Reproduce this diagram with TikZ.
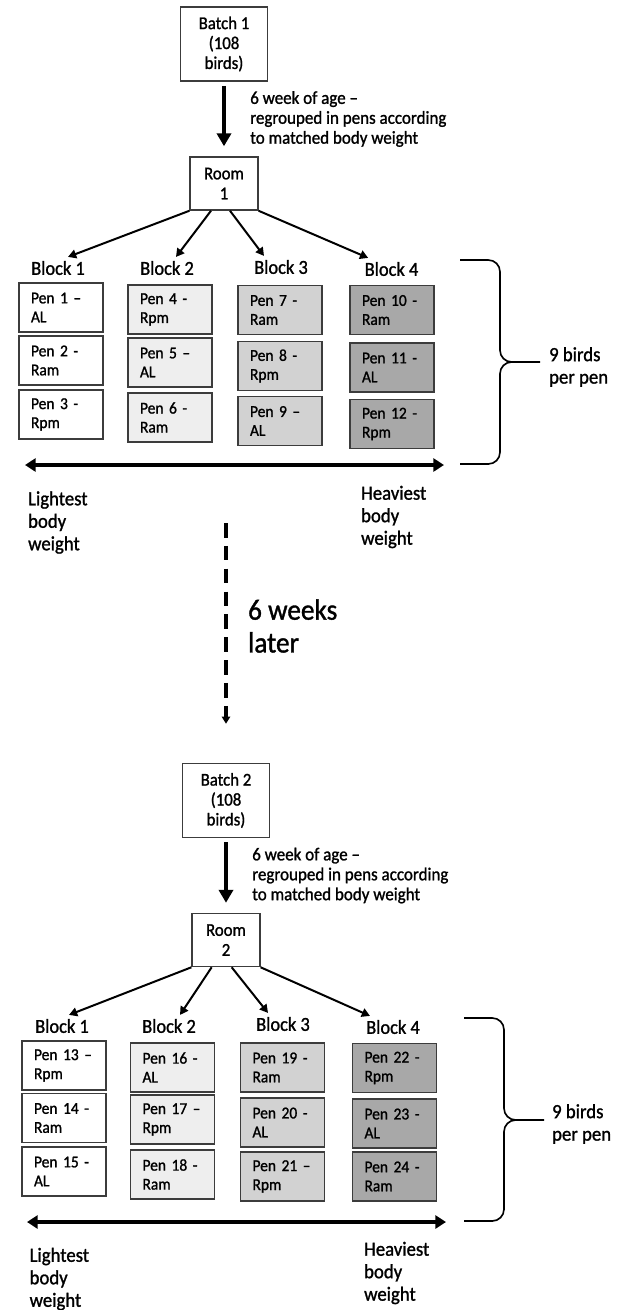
\documentclass[tikz,border=0pt]{standalone}
\usepackage{fontspec}
\setmainfont{Carlito}[FakeStretch=0.93, FakeBold=1.2]
\usepackage{xcolor}
\usepackage{tikz}
\usetikzlibrary{arrows.meta,positioning}
\definecolor{pa}{RGB}{238,238,238}
\definecolor{pb}{RGB}{210,210,210}
\definecolor{pc}{RGB}{168,168,168}
\definecolor{edge}{RGB}{60,60,60}

\begin{document}
\begin{tikzpicture}[
            x=0.03cm, y=-0.03cm, % one unit = one pixel of the sketch
            top_box/.style={draw=edge, line width=1.3pt, fill=white, align=center,
                inner sep=0pt, minimum width=2.61cm, minimum height=2.22cm,
                font=\fontsize{15.4}{17}\selectfont},
            room_box/.style={top_box, minimum width=2.03cm, minimum height=1.59cm},
            pen_box/.style={draw=edge, line width=1.3pt, align=left,
                text width=1.8cm, inner xsep=0.36cm, inner ysep=0pt,
                minimum height=1.47cm, font=\fontsize{14.2}{16.2}\selectfont},
            block_label/.style={font=\fontsize{16.9}{20}\selectfont},
            side_label/.style={anchor=west, align=left, font=\fontsize{17.2}{19.2}\selectfont},
            note_label/.style={align=left, font=\fontsize{15.6}{17}\selectfont},
            main_arrow/.style={-{Triangle[length=11pt,width=12pt]}, line width=4pt},
            branch_arrow/.style={-{Triangle[length=7pt,width=7.5pt]}, line width=1.7pt},
            span_arrow/.style={{Triangle[length=9pt,width=11pt]}-{Triangle[length=9pt,width=11pt]}, line width=2.8pt},
            gap_arrow/.style={-{Triangle[length=6pt,width=7pt]}, line width=3pt, dash pattern=on 12.5pt off 7pt},
            brace_line/.style={line width=1.4pt, rounded corners=10pt}
        ]
        \useasboundingbox (0,0) rectangle (622,1310);

        % Batch 1
        \node[top_box] (batch1) at (224,44) {Batch 1\\(108\\birds)};
        \node[room_box] (room1) at (224,183.5) {Room\\1};
        \draw[main_arrow, shorten <=0.12cm, shorten >=0.3cm] (batch1) -- (room1)
            node[midway, right=0.6cm, note_label] (ageA) {6 week of age –\\regrouped in pens according\\to matched body weight};

        % Blocks of room 1
        \node[block_label] (blkA1) at (58,268) {Block 1};
        \node[block_label] (blkA2) at (167,268) {Block 2};
        \node[block_label] (blkA3) at (281,267) {Block 3};
        \node[block_label] (blkA4) at (391.5,269) {Block 4};
        \draw[branch_arrow] (room1.south west) -- ([xshift=0.3cm]blkA1.north);
        \draw[branch_arrow] ([xshift=-0.39cm]room1.south) -- ([xshift=0.27cm]blkA2.north);
        \draw[branch_arrow] ([xshift=0.18cm]room1.south) -- ([xshift=-0.51cm]blkA3.north);
        \draw[branch_arrow] (room1.south east) -- ([xshift=-0.7cm]blkA4.north);

        % Pens 1-12
        \node[pen_box, fill=white] (pen1) at (61,307.5) {Pen 1 –\\AL};
        \node[pen_box, fill=white] (pen2) at (61,360.5) {Pen 2 -\\Ram};
        \node[pen_box, fill=white] (pen3) at (61,414.5) {Pen 3 -\\Rpm};
        \node[pen_box, fill=pa] (pen4) at (170,309.5) {Pen 4 -\\Rpm};
        \node[pen_box, fill=pa] (pen5) at (170,362.5) {Pen 5 –\\AL};
        \node[pen_box, fill=pa] (pen6) at (170,417.5) {Pen 6 -\\Ram};
        \node[pen_box, fill=pb] (pen7) at (280,310) {Pen 7 -\\Ram};
        \node[pen_box, fill=pb] (pen8) at (280,366) {Pen 8 -\\Rpm};
        \node[pen_box, fill=pb] (pen9) at (280,421) {Pen 9 –\\AL};
        \node[pen_box, fill=pc] (pen10) at (392,310) {Pen 10 -\\Ram};
        \node[pen_box, fill=pc] (pen11) at (392,367.5) {Pen 11 -\\AL};
        \node[pen_box, fill=pc] (pen12) at (392,424) {Pen 12 -\\Rpm};

        % Weight axis and brace
        \coordinate (lightA) at (25,465);
        \coordinate (heavyA) at (444,465);
        \draw[span_arrow] (lightA) -- (heavyA);
        \node[side_label] (lightTxtA) at (24,522.5) {Lightest\\body\\weight};
        \node[side_label] (heavyTxtA) at (357,517) {Heaviest\\body\\weight};
        \draw[brace_line] (460,260) -- (500,260) -- (500,362) -- (540,362)
            (540,362) -- (500,362) -- (500,464) -- (460,464);
        \node[side_label] (birdsA) at (545,367) {9 birds\\per pen};

        % Gap between batches
        \coordinate (gapTop) at (226,523);
        \node[top_box] (batch2) at (226,800.5) {Batch 2\\(108\\birds)};
        \draw[gap_arrow, shorten >=1.17cm] (gapTop) -- (batch2.north);
        \node[anchor=west, align=left, font=\fontsize{25}{28}\selectfont] (later) at (244,626) {6 weeks\\later};

        % Batch 2
        \node[room_box] (room2) at (226,940) {Room\\2};
        \draw[main_arrow, shorten <=0.12cm, shorten >=0.3cm] (batch2) -- (room2)
            node[midway, right=0.6cm, note_label] (ageB) {6 week of age –\\regrouped in pens according\\to matched body weight};

        % Blocks of room 2
        \node[block_label] (blkB1) at (62,1026) {Block 1};
        \node[block_label] (blkB2) at (169,1026) {Block 2};
        \node[block_label] (blkB3) at (283,1024) {Block 3};
        \node[block_label] (blkB4) at (393,1027) {Block 4};
        \draw[branch_arrow] (room2.south west) -- ([xshift=0.21cm]blkB1.north);
        \draw[branch_arrow] ([xshift=-0.43cm]room2.south) -- ([xshift=0.33cm]blkB2.north);
        \draw[branch_arrow] ([xshift=0.17cm]room2.south) -- ([xshift=-0.45cm]blkB3.north);
        \draw[branch_arrow] (room2.south east) -- ([xshift=-0.69cm]blkB4.north);

        % Pens 13-24
        \node[pen_box, fill=white] (pen13) at (64,1065.5) {Pen 13 –\\Rpm};
        \node[pen_box, fill=white] (pen14) at (64,1118) {Pen 14 -\\Ram};
        \node[pen_box, fill=white] (pen15) at (64,1171.5) {Pen 15 -\\AL};
        \node[pen_box, fill=pa] (pen16) at (172.5,1067.5) {Pen 16 -\\AL};
        \node[pen_box, fill=pa] (pen17) at (172.5,1119.5) {Pen 17 –\\Rpm};
        \node[pen_box, fill=pa] (pen18) at (172.5,1174.5) {Pen 18 -\\Ram};
        \node[pen_box, fill=pb] (pen19) at (282.5,1067.5) {Pen 19 -\\Ram};
        \node[pen_box, fill=pb] (pen20) at (282.5,1122.5) {Pen 20 -\\AL};
        \node[pen_box, fill=pb] (pen21) at (282.5,1176.5) {Pen 21 –\\Rpm};
        \node[pen_box, fill=pc] (pen22) at (394.5,1068) {Pen 22 -\\Rpm};
        \node[pen_box, fill=pc] (pen23) at (394.5,1123.5) {Pen 23 -\\AL};
        \node[pen_box, fill=pc] (pen24) at (394.5,1176.5) {Pen 24 -\\Ram};

        % Weight axis and brace
        \coordinate (lightB) at (27,1222);
        \coordinate (heavyB) at (446,1222);
        \draw[span_arrow] (lightB) -- (heavyB);
        \node[side_label] (lightTxtB) at (25.5,1279) {Lightest\\body\\weight};
        \node[side_label] (heavyTxtB) at (360,1273) {Heaviest\\body\\weight};
        \draw[brace_line] (464,1018) -- (504,1018) -- (504,1120) -- (544,1120)
            (544,1120) -- (504,1120) -- (504,1221) -- (464,1221);
        \node[side_label] (birdsB) at (548,1124) {9 birds\\per pen};
\end{tikzpicture}
\end{document}
